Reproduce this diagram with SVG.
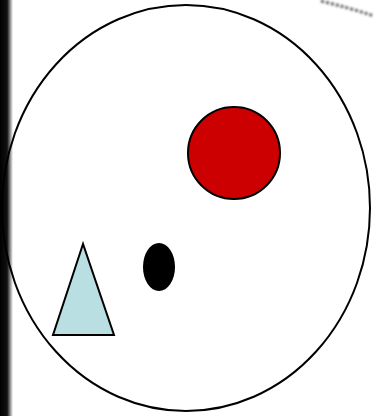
<svg xmlns="http://www.w3.org/2000/svg" width="374" height="416" viewBox="0 0 374 416">
<defs>
<linearGradient id="edge" x1="0" y1="0" x2="1" y2="0">
<stop offset="0" stop-color="#000"/>
<stop offset="0.55" stop-color="#111"/>
<stop offset="1" stop-color="#fff"/>
</linearGradient>
<filter id="blur" x="-10%" y="-100%" width="120%" height="300%"><feGaussianBlur stdDeviation="1"/></filter>
</defs>
<style>
.s{stroke:#000;stroke-width:2}
</style>
<rect width="374" height="416" fill="#fff"/>
<rect x="0" y="0" width="13" height="416" fill="url(#edge)"/>
<path d="M321 1 Q350 8 374 16" fill="none" stroke="#666" stroke-width="3" stroke-dasharray="3 2" filter="url(#blur)"/>
<g id="outer"><ellipse cx="186" cy="208" rx="184" ry="203" fill="none" class="s"/></g>
<g id="red"><circle cx="234" cy="153" r="46" fill="#cc0000" class="s"/></g>
<g id="dot"><ellipse cx="159" cy="267" rx="16" ry="24" fill="#000"/></g>
<g id="tri"><polygon points="83,244 53,335 114,335" fill="#b9dfe3" class="s" stroke-linejoin="miter"/></g>
</svg>
